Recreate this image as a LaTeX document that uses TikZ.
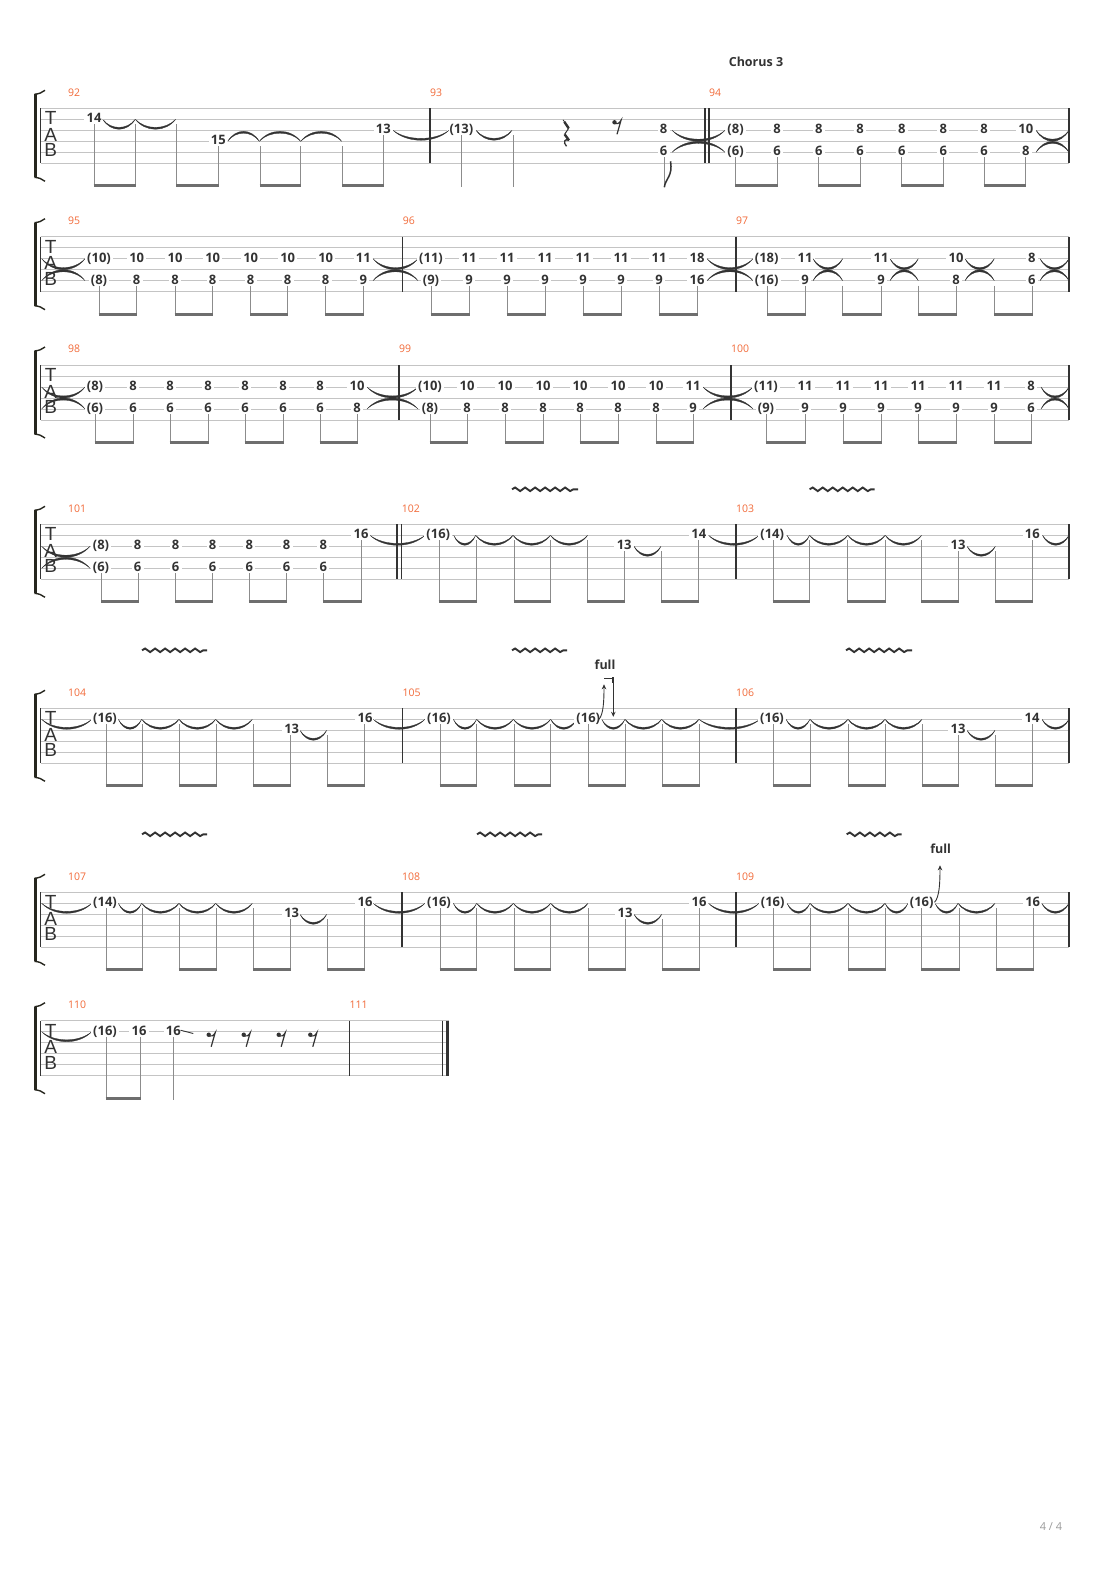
\documentclass[tikz,border=0pt]{standalone}
\usepackage{fontspec}
\setmainfont{Open Sans}
\newfontfamily\tabfont{Liberation Sans}
\usetikzlibrary{arrows.meta,decorations.pathmorphing}

\definecolor{inkcol}{HTML}{333333}
\definecolor{staffcol}{HTML}{C4C4C4}
\definecolor{stemcol}{HTML}{8C8C8C}
\definecolor{beamcol}{HTML}{6E6E6E}
\definecolor{barnocol}{HTML}{F26B3A}
\definecolor{bracketcol}{HTML}{26261E}
\definecolor{pagecol}{HTML}{9A9A9A}

\tikzset{
  staffline/.style={draw=staffcol, line width=0.8pt},
  barline/.style={draw=inkcol, line width=1.1pt},
  fret/.style={font=\bfseries\fontsize{13}{13}\selectfont, text=inkcol, fill=white,
    inner xsep=2.3pt, inner ysep=1pt, text height=9.2pt, text depth=0pt, yshift=1pt},
  barnum/.style={font=\fontsize{10.5}{10.5}\selectfont, text=barnocol, anchor=west, inner sep=0pt},
  tabletter/.style={font=\tabfont\fontsize{19}{19}\selectfont, text=inkcol, inner sep=0pt},
  heading/.style={font=\bfseries\fontsize{12.5}{12.5}\selectfont, text=inkcol},
  bendlabel/.style={font=\bfseries\fontsize{12.5}{12.5}\selectfont, text=inkcol, inner sep=0pt},
  stem/.style={draw=stemcol, line width=1pt},
  beam/.style={draw=beamcol, line width=3pt},
  tiecol/.style={fill=inkcol, draw=inkcol, line width=0.3pt},
  bracket/.style={draw=bracketcol, line width=2.8pt},
  brackethook/.style={draw=bracketcol, line width=1.4pt},
  vibrato/.style={draw=inkcol, line width=1.9pt, decorate,
    decoration={snake, segment length=10pt, amplitude=1.8pt}},
  bendarrow/.style={draw=inkcol, line width=0.9pt, -{Stealth[length=5pt,width=4.5pt]}},
}

\newcount\fretcount
% fret number: x, string, label
\newcommand{\fret}[3]{%
  \global\advance\fretcount by 1
  \node[fret] (fret\the\fretcount) at (#1,{11*(#2-1)}) {#3};}
\newcommand{\chord}[3]{\fret{#1}{3}{#2}\fret{#1}{5}{#3}}
% tie arc: x1, x2, y, depth (+ down)
\newcommand{\tiearc}[4]{%
  \pgfmathsetmacro{\ta}{#1+(#2-#1)*0.25}
  \pgfmathsetmacro{\tb}{#1+(#2-#1)*0.75}
  \pgfmathsetmacro{\tc}{#3+#4*1.33}
  \pgfmathsetmacro{\td}{#3+#4*1.08}
  \filldraw[tiecol] (#1,#3) .. controls (\ta,\tc) and (\tb,\tc) .. (#2,#3)
    .. controls (\tb,\td) and (\ta,\td) .. cycle;}
\newcommand{\tieD}[3]{\pgfmathsetmacro{\ty}{11*(#3-1)}\tiearc{#1}{#2}{\ty}{10}}
\newcommand{\tieU}[3]{\pgfmathsetmacro{\ty}{11*(#3-1)}\tiearc{#1}{#2}{\ty}{-10}}
\newcommand{\tieX}[2]{\tiearc{#1}{#2}{22}{11}\tiearc{#1}{#2}{44}{-11}}
% beamed pair of eighths: x1, x2, string1, string2
\newcommand{\pair}[4]{%
  \pgfmathsetmacro{\pa}{11*(#3-1)+5}
  \pgfmathsetmacro{\pb}{11*(#4-1)+5}
  \draw[stem] (#1,\pa) -- (#1,79);
  \draw[stem] (#2,\pb) -- (#2,79);
  \draw[beam] (#1-0.5,77.5) -- (#2+0.5,77.5);}
\newcommand{\tabbar}[1]{\draw[barline] (#1,0) -- (#1,55);}
\newcommand{\barno}[2]{\node[barnum] (bar#2) at (#1,-16) {#2};}
\newcommand{\vib}[3]{\draw[vibrato] (#1,#3) -- (#2,#3);}
\newcommand{\eighthrest}[1]{%
  \fill[inkcol] (#1-3,14) circle (2.2);
  \draw[inkcol, line width=1.2pt] (#1-3,15.3) .. controls (#1-0.5,16.2) and (#1+2,15) .. (#1+3.5,12) -- (#1-0.5,26);}
% staff: system id, right end
\newcommand{\tabstaff}[2]{%
  \foreach \s in {0,...,5} {\draw[staffline] (40.7,\s*11) -- (#2,\s*11);}
  \draw[barline] (40.7,0) -- (40.7,55);
  \draw[bracket] (35.5,-14) -- (35.5,69);
  \draw[brackethook] (34.5,-14) .. controls (39,-14.5) and (42,-15.5) .. (45,-18);
  \draw[brackethook] (34.5,69) .. controls (39,69.5) and (42,70.5) .. (45,73);
  \node[tabletter] (tabT#1) at (50.7,10) {T};
  \node[tabletter] (tabA#1) at (50.7,26.7) {A};
  \node[tabletter] (tabB#1) at (50.7,42) {B};}

\begin{document}
\begin{tikzpicture}[x=1pt,y=-1pt]
  \useasboundingbox[fill=white] (0,0) rectangle (1110,1570);
  \node[heading] (chorus) at (756,62) {Chorus 3};

  % System 1: bars 92-94
  \begin{scope}[shift={(0,108.3)}]
    \tabstaff{1}{1069}
    \barno{68}{92} \barno{430}{93} \barno{709}{94}
    \foreach \x in {430,705,709,1069} {\tabbar{\x}}
    \fret{94}{2}{14} \fret{218.3}{4}{15} \fret{383.3}{3}{13}
    \fret{461.4}{3}{(13)}
    \fret{663.5}{3}{8} \fret{663.5}{5}{6}
    \chord{735.6}{(8)}{(6)}
    \foreach \x in {777,818.7,860,901.8,943.2,984.1} {\chord{\x}{8}{6}}
    \chord{1025.9}{10}{8}
    \tieD{102.7}{135.3}{2} \tieD{135.3}{175.7}{2}
    \tieU{227.7}{259.3}{4} \tieU{259.3}{300.7}{4} \tieU{300.7}{341.7}{4}
    \tieD{393}{449}{3} \tieD{476}{512}{3}
    \tieX{672}{725} \tieX{1036}{1069}
    \pair{94}{135.3}{2}{2} \pair{176.7}{218.3}{2}{4}
    \pair{260}{300.7}{4}{4} \pair{342.7}{383.3}{4}{3}
    \draw[stem] (461.4,27) -- (461.4,79);
    \draw[stem] (513.7,27) -- (513.7,79);
    % quarter rest and eighth rest
    \draw[inkcol, line width=0.8pt] (563,11.5) -- (564.5,13.5);
    \draw[inkcol, line width=2.4pt] (564.3,13.5) -- (568.7,20);
    \draw[inkcol, line width=1pt] (568.7,20) -- (564.6,26);
    \draw[inkcol, line width=2.4pt] (564.6,26) -- (569,32);
    \draw[inkcol, line width=1.3pt] (569,32) .. controls (565,30) and (562.5,33.5) .. (566.5,38);
    \eighthrest{617.5}
    \draw[stem] (664.3,49) -- (664.3,79);
    \draw[inkcol, line width=1.5pt] (664.3,79) .. controls (665.5,70) and (673,68) .. (670.5,53);
    \foreach \a/\b in {735.6/777,818.7/860,901.8/943.2,984.1/1025.9} {\pair{\a}{\b}{5}{5}}
  \end{scope}

  % System 2: bars 95-97
  \begin{scope}[shift={(0,236.7)}]
    \tabstaff{2}{1069}
    \barno{68}{95} \barno{402.7}{96} \barno{736}{97}
    \foreach \x in {402.7,736,1069} {\tabbar{\x}}
    \tieX{41.7}{85}
    \chord{99}{(10)}{(8)}
    \foreach \x in {136.7,175,212.7,250.7,287.7,325.7} {\chord{\x}{10}{8}}
    \chord{363.3}{11}{9} \tieX{373}{418}
    \chord{431}{(11)}{(9)}
    \foreach \x in {469,507,545,583,621,659} {\chord{\x}{11}{9}}
    \chord{697}{18}{16} \tieX{707}{753}
    \chord{766.7}{(18)}{(16)} \chord{805}{11}{9} \tieX{813}{842.7}
    \chord{881}{11}{9} \tieX{890}{918.3}
    \chord{956}{10}{8} \tieX{965}{994.3}
    \chord{1031.7}{8}{6} \tieX{1040}{1069}
    \foreach \a/\b in {99/136.7,175/212.7,250.7/287.7,325.7/363.3,
      431/469,507/545,583/621,659/697,
      767.7/805,842.7/881,918.3/956,994.3/1032.3} {\pair{\a}{\b}{5}{5}}
  \end{scope}

  % System 3: bars 98-100
  \begin{scope}[shift={(0,365)}]
    \tabstaff{3}{1069}
    \barno{68}{98} \barno{399}{99} \barno{731}{100}
    \foreach \x in {399,731,1069} {\tabbar{\x}}
    \tieX{41.7}{85}
    \chord{95}{(8)}{(6)}
    \foreach \x in {133,170,208,245,283,320} {\chord{\x}{8}{6}}
    \chord{357}{10}{8} \tieX{367}{418}
    \chord{430}{(10)}{(8)}
    \foreach \x in {467,505,543,580,618,656} {\chord{\x}{10}{8}}
    \chord{693}{11}{9} \tieX{703}{753}
    \chord{766}{(11)}{(9)}
    \foreach \x in {805,843,881,918,956,994} {\chord{\x}{11}{9}}
    \chord{1031}{8}{6} \tieX{1041}{1069}
    \foreach \a/\b in {95/133,170/208,245/283,320/357,
      430/467,505/543,580/618,656/693,
      766/805,843/881,918/956,994/1031} {\pair{\a}{\b}{5}{5}}
  \end{scope}

  % System 4: bars 101-103
  \begin{scope}[shift={(0,524.3)}]
    \tabstaff{4}{1069}
    \barno{68}{101} \barno{401.7}{102} \barno{736}{103}
    \foreach \x in {397,401.7,736,1069} {\tabbar{\x}}
    \vib{512}{578}{-35} \vib{809.6}{874.6}{-35}
    \tieX{41.7}{90}
    \chord{101}{(8)}{(6)}
    \foreach \x in {137.7,175.7,212.7,249.3,286.7,323.3} {\chord{\x}{8}{6}}
    \fret{361}{2}{16} \tieD{370}{425}{2}
    \foreach \a/\b in {101.7/138.3,175.7/212.7,249.3/286.7} {\pair{\a}{\b}{5}{5}}
    \pair{323.3}{361}{5}{2}
    % bar 102
    \fret{438.3}{2}{(16)}
    \tieD{453.7}{475.7}{2} \tieD{475.7}{513}{2} \tieD{513}{550.4}{2} \tieD{550.4}{587.7}{2}
    \fret{624.2}{3}{13} \tieD{634}{661}{3}
    \fret{698.9}{2}{14} \tieD{708.5}{759}{2}
    \pair{439}{476}{2}{2} \pair{514}{550.4}{2}{2} \pair{587.7}{624.2}{2}{3} \pair{661.5}{698.9}{3}{2}
    % bar 103
    \fret{772.2}{2}{(14)}
    \tieD{787}{809.6}{2} \tieD{809.6}{847.8}{2} \tieD{847.8}{885.2}{2} \tieD{885.2}{921.6}{2}
    \fret{958.1}{3}{13} \tieD{967}{995.4}{3}
    \fret{1032.4}{2}{16} \tieD{1042.5}{1069}{2}
    \pair{773}{809.6}{2}{2} \pair{847.8}{885.2}{2}{2} \pair{921.6}{958.1}{2}{3} \pair{995.4}{1032.4}{3}{2}
  \end{scope}

  % System 5: bars 104-106
  \begin{scope}[shift={(0,708.3)}]
    \tabstaff{5}{1069}
    \barno{68}{104} \barno{402.3}{105} \barno{736}{106}
    \foreach \x in {402.3,736,1069} {\tabbar{\x}}
    \vib{142}{207}{-58} \vib{512}{567}{-58} \vib{846}{912}{-58}
    \tieD{41.7}{91.7}{2}
    \fret{105}{2}{(16)}
    \tieD{118.3}{141.7}{2} \tieD{141.7}{179}{2} \tieD{179}{215.7}{2} \tieD{215.7}{252.3}{2}
    \fret{291.7}{3}{13} \tieD{300}{326.7}{3}
    \fret{365}{2}{16} \tieD{373.3}{425}{2}
    \pair{106}{142.7}{2}{2} \pair{179.3}{216}{2}{2} \pair{253.3}{290.7}{2}{3} \pair{327.7}{364.3}{3}{2}
    % bar 105
    \fret{439}{2}{(16)}
    \tieD{453.3}{476.7}{2} \tieD{476.7}{513.3}{2} \tieD{513.3}{550.7}{2} \tieD{550.7}{576.7}{2}
    \fret{588.3}{2}{(16)}
    \draw[bendarrow] (599,11) .. controls (603.5,6) and (604,-8) .. (604,-24);
    \draw[bendarrow] (604,-30) -- (613.3,-30) -- (613.3,8.5);
    \draw[inkcol, line width=2pt] (612.6,-31) -- (612.6,-25);
    \node[bendlabel] (full1) at (605,-44) {full};
    \tieD{601.7}{625}{2} \tieD{625}{661.7}{2} \tieD{661.7}{699}{2} \tieD{699}{760}{2}
    \pair{440}{476.7}{2}{2} \pair{514}{550.7}{2}{2} \pair{588.3}{625}{2}{2} \pair{662.7}{699.3}{2}{2}
    % bar 106
    \fret{772}{2}{(16)}
    \tieD{786}{810}{2} \tieD{810}{848}{2} \tieD{848}{885}{2} \tieD{885}{922}{2}
    \fret{958}{3}{13} \tieD{967}{995}{3}
    \fret{1032}{2}{14} \tieD{1042}{1069}{2}
    \pair{773}{810}{2}{2} \pair{848}{885}{2}{2} \pair{922}{958}{2}{3} \pair{995}{1032}{3}{2}
  \end{scope}

  % System 6: bars 107-109
  \begin{scope}[shift={(0,892.3)}]
    \tabstaff{6}{1069}
    \barno{68}{107} \barno{402}{108} \barno{736}{109}
    \foreach \x in {402,736,1069} {\tabbar{\x}}
    \vib{142}{207}{-58} \vib{477}{542}{-58} \vib{846.7}{901.7}{-58}
    \tieD{41.7}{91.7}{2}
    \fret{105}{2}{(14)}
    \tieD{118.3}{141.7}{2} \tieD{141.7}{179}{2} \tieD{179}{215.7}{2} \tieD{215.7}{252.3}{2}
    \fret{291.7}{3}{13} \tieD{300}{326.7}{3}
    \fret{365}{2}{16} \tieD{373.3}{425}{2}
    \pair{106}{142.7}{2}{2} \pair{179.3}{216}{2}{2} \pair{253.3}{290.7}{2}{3} \pair{327.7}{364.3}{3}{2}
    % bar 108
    \fret{439}{2}{(16)}
    \tieD{453.3}{476.7}{2} \tieD{476.7}{513.3}{2} \tieD{513.3}{550.7}{2} \tieD{550.7}{588}{2}
    \fret{625}{3}{13} \tieD{634}{661.7}{3}
    \fret{699}{2}{16} \tieD{708.5}{759}{2}
    \pair{440}{476.7}{2}{2} \pair{514}{550.7}{2}{2} \pair{588}{625}{2}{3} \pair{662}{699}{3}{2}
    % bar 109
    \fret{772.7}{2}{(16)}
    \tieD{787}{810}{2} \tieD{810}{848}{2} \tieD{848}{885}{2} \tieD{885}{908}{2}
    \fret{921.7}{2}{(16)}
    \draw[bendarrow] (934.5,10) .. controls (939.5,5) and (940,-10) .. (940,-27);
    \node[bendlabel] (full2) at (940.7,-44) {full};
    \tieD{935}{958}{2} \tieD{958}{995}{2}
    \fret{1032.7}{2}{16} \tieD{1041.7}{1069}{2}
    \pair{773.3}{810.7}{2}{2} \pair{848.3}{885}{2}{2} \pair{921.7}{959}{2}{2} \pair{996}{1033.3}{2}{2}
  \end{scope}

  % System 7: bars 110-111
  \begin{scope}[shift={(0,1020.7)}]
    \tabstaff{7}{449}
    \barno{68}{110} \barno{349.3}{111}
    \tabbar{349.3} \tabbar{442.3}
    \draw[draw=inkcol, line width=3.6pt] (447.3,0) -- (447.3,55);
    \tieD{41.7}{91.7}{2}
    \fret{105}{2}{(16)} \fret{139}{2}{16} \fret{173.3}{2}{16}
    \draw[inkcol, line width=0.9pt] (180.5,9.5) -- (193.3,12.8);
    \pair{106}{140}{2}{2}
    \draw[stem] (173.3,16) -- (173.3,79);
    \foreach \x in {211.7,246.7,281.7,313.3} {\eighthrest{\x}}
  \end{scope}

  \node[font=\fontsize{11}{11}\selectfont, text=pagecol] (pageno) at (1051,1527) {4 / 4};
\end{tikzpicture}
\end{document}
